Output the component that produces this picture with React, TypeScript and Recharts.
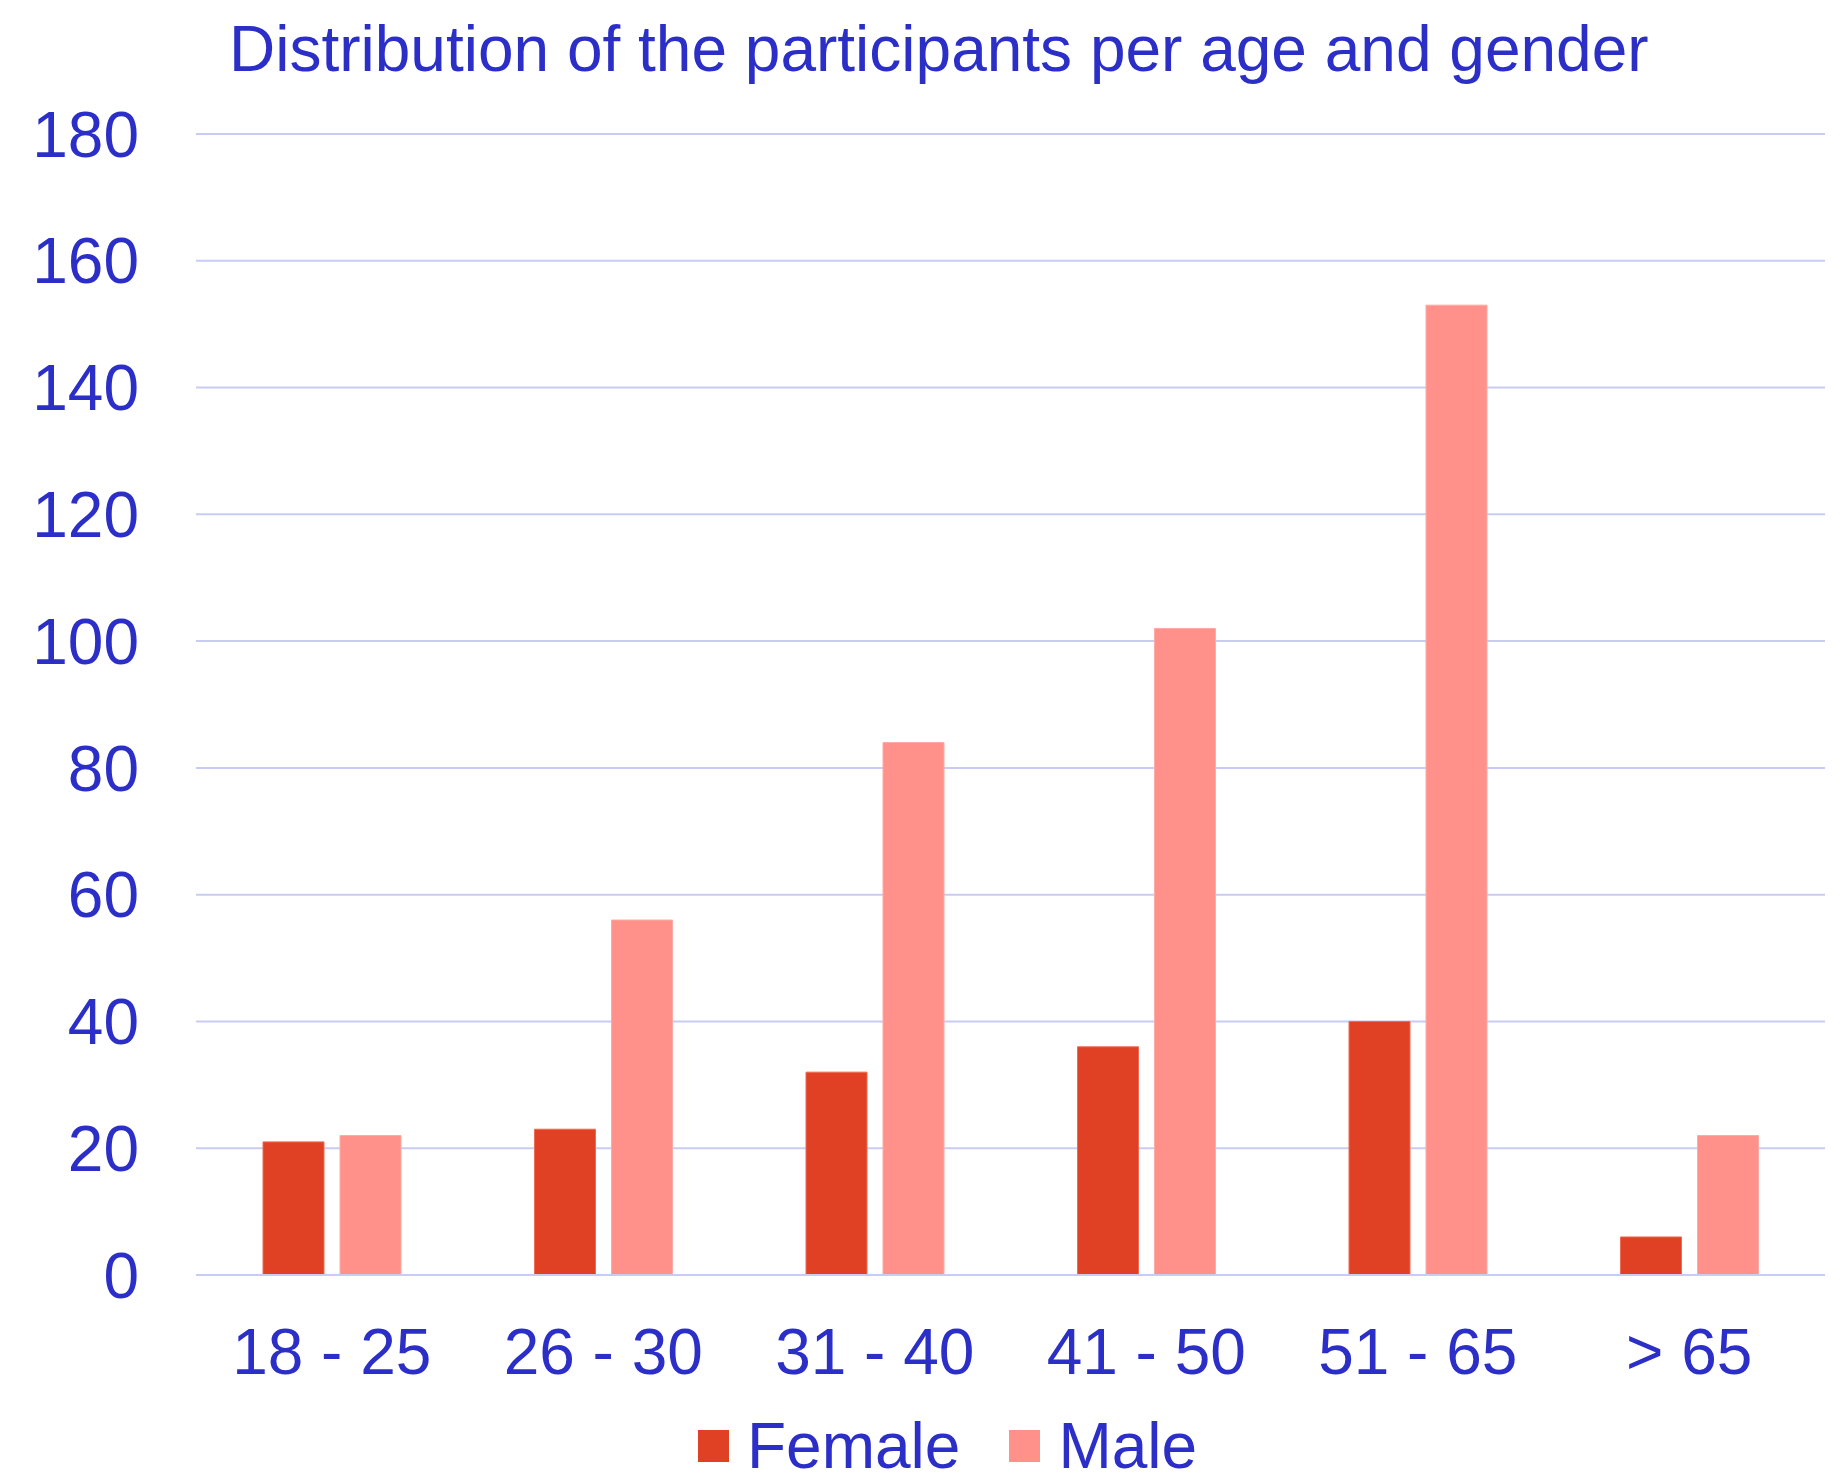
import React from 'react';
import { BarChart, Bar, XAxis, YAxis, CartesianGrid, Legend } from 'recharts';

const ageGroups = ['18 - 25', '26 - 30', '31 - 40', '41 - 50', '51 - 65', '> 65'];
const femaleCounts = [21, 23, 32, 36, 40, 6];
const maleCounts = [22, 56, 84, 102, 153, 22];
const yTicks = [0, 20, 40, 60, 80, 100, 120, 140, 160, 180];

const data = ageGroups.map((age, i) => ({
  age,
  female: femaleCounts[i],
  male: maleCounts[i],
}));

const BLUE = '#2b2fc8';
const GRID = '#c9ccf2';
const FEMALE = '#e04124';
const MALE = '#ff918a';
const FONT = '"Liberation Sans", Arial, sans-serif';

const LegendBox = ({ payload }: any) => (
  <div style={{ display: 'flex', alignItems: 'center', height: 60, paddingLeft: 698 }}>
    {(payload || []).map((p: any, i: number) => (
      <div key={p.value} style={{ display: 'flex', alignItems: 'center', marginRight: i === 0 ? 49 : 0 }}>
        <div style={{ width: 31, height: 32, background: p.color, marginRight: 18 }} />
        <span style={{ fontFamily: FONT, fontSize: 64, color: BLUE, lineHeight: '60px' }}>{p.value}</span>
      </div>
    ))}
  </div>
);

export default function App() {
  return (
    <div style={{ position: 'absolute', left: 0, top: 0, width: 1844, height: 1484, background: '#fff' }}>
      <div
        style={{
          position: 'absolute',
          left: 229,
          top: 17,
          fontFamily: FONT,
          fontSize: 64,
          lineHeight: '64px',
          color: BLUE,
          whiteSpace: 'nowrap',
        }}
      >
        Distribution of the participants per age and gender
      </div>
      <BarChart
        width={1844}
        height={1484}
        data={data}
        margin={{ top: 134, right: 19, bottom: 49, left: 0 }}
        barGap={16}
        barSize={61}
      >
        <CartesianGrid vertical={false} stroke={GRID} strokeWidth={2} />
        <XAxis
          dataKey="age"
          height={100}
          axisLine={{ stroke: GRID, strokeWidth: 2 }}
          tickLine={false}
          tickSize={0}
          tickMargin={54}
          tick={{ fill: BLUE, fontSize: 64, fontFamily: FONT }}
        />
        <YAxis
          width={196}
          domain={[0, 180]}
          ticks={yTicks}
          axisLine={false}
          tickLine={false}
          tickSize={0}
          tickMargin={57}
          tick={{ fill: BLUE, fontSize: 64, fontFamily: FONT }}
        />
        <Legend
          verticalAlign="bottom"
          content={<LegendBox />}
          wrapperStyle={{ left: 0, top: 1416, width: 1844, height: 60 }}
        />
        <Bar dataKey="female" name="Female" fill={FEMALE} stroke="#ee6a52" strokeWidth={1} isAnimationActive={false} />
        <Bar dataKey="male" name="Male" fill={MALE} stroke="#ffaaa4" strokeWidth={1} isAnimationActive={false} />
      </BarChart>
    </div>
  );
}
